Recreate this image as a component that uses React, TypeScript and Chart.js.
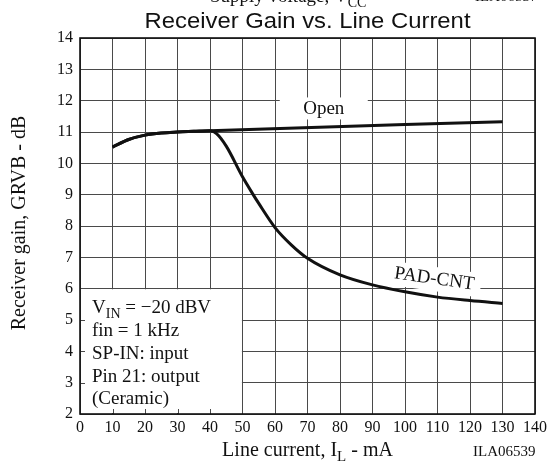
import React, { useEffect, useRef } from "react";
import { Chart, registerables } from "chart.js";

Chart.register(...registerables);

// Receiver gain (dB) versus line current (mA)
const currentOpen = [10, 15, 20, 25, 30, 35, 40, 130];
const gainOpen = [10.52, 10.76, 10.9, 10.97, 11.0, 11.02, 11.04, 11.33];

const currentPad = [10, 15, 20, 25, 30, 35, 40, 42, 45, 50, 53, 55, 60, 65, 70, 80, 90, 100, 110, 120, 130];
const gainPad = [10.52, 10.76, 10.9, 10.97, 11.0, 11.02, 11.04, 10.95, 10.55, 9.57, 9.05, 8.72, 7.95, 7.4, 6.97, 6.44, 6.12, 5.9, 5.73, 5.62, 5.53];

const seriesNames = ["Open", "PAD-CNT"];

const xTicks = [0, 140, 10]; // min, max, step
const yTicks = [2, 14, 1];

const titleText = "Receiver Gain vs. Line Current";
const yTitle = "Receiver gain, GRVB - dB";
const figureId = "ILA06539";
const headerId = "ILA06537";

type Run = { t: string; sub?: boolean };
const xTitleRuns: Run[] = [{ t: "Line current, I" }, { t: "L", sub: true }, { t: " - mA" }];
const headerRuns: Run[] = [{ t: "Supply voltage, V" }, { t: "CC", sub: true }];
const conditionLines: Run[][] = [
  [{ t: "V" }, { t: "IN", sub: true }, { t: " = \u221220 dBV" }],
  [{ t: "fin = 1 kHz" }],
  [{ t: "SP-IN: input" }],
  [{ t: "Pin 21: output" }],
  [{ t: "(Ceramic)" }],
];

const SERIF = '"Liberation Serif", "Times New Roman", serif';
const SANS = '"Liberation Sans", Arial, sans-serif';
const GRID = "#4a4a4a";
const INK = "#111111";

function drawRuns(
  ctx: CanvasRenderingContext2D,
  runs: Run[],
  x: number,
  y: number,
  size: number,
  align: "left" | "center"
) {
  const subSize = Math.round(size * 0.74);
  const drop = size * 0.27;
  const widths = runs.map((r) => {
    ctx.font = `${r.sub ? subSize : size}px ${SERIF}`;
    return ctx.measureText(r.t).width;
  });
  const total = widths.reduce((s, w) => s + w, 0);
  let cx = align === "center" ? x - total / 2 : x;
  ctx.textAlign = "left";
  ctx.textBaseline = "alphabetic";
  runs.forEach((r, i) => {
    ctx.font = `${r.sub ? subSize : size}px ${SERIF}`;
    ctx.fillText(r.t, cx, r.sub ? y + drop : y);
    cx += widths[i];
  });
}

const annotations = {
  id: "annotations",
  beforeDatasetsDraw(chart: any) {
    const { ctx, chartArea: a, scales } = chart;
    const x = scales.x;
    const y = scales.y;
    ctx.save();
    ctx.fillStyle = "#ffffff";

    // conditions panel in the lower-left corner
    const bx0 = a.left + 1;
    const bx1 = x.getPixelForValue(50) - 0.6;
    const by0 = y.getPixelForValue(6) + 0.6;
    const by1 = a.bottom - 1;
    ctx.fillRect(bx0, by0, bx1 - bx0, by1 - by0);

    // short inward ticks along the panel edges
    ctx.strokeStyle = GRID;
    ctx.lineWidth = 1;
    ctx.beginPath();
    for (const v of [3, 4, 5]) {
      const py = Math.round(y.getPixelForValue(v)) + 0.5;
      ctx.moveTo(a.left, py);
      ctx.lineTo(a.left + 5, py);
    }
    for (const v of [10, 20, 30, 40]) {
      const px = Math.round(x.getPixelForValue(v)) + 0.5;
      ctx.moveTo(px, a.bottom);
      ctx.lineTo(px, a.bottom - 5);
    }
    ctx.stroke();

    // white backing behind the curve labels
    const ox = x.getPixelForValue(75);
    const oy = y.getPixelForValue(11.72);
    ctx.fillRect(ox - 44, oy - 12, 88, 22);

    const px = x.getPixelForValue(109);
    const py = y.getPixelForValue(6.31);
    ctx.translate(px, py);
    ctx.rotate((8 * Math.PI) / 180);
    ctx.fillRect(-47, -12, 94, 24);
    ctx.restore();
  },
  afterDatasetsDraw(chart: any) {
    const { ctx, chartArea: a, scales } = chart;
    const x = scales.x;
    const y = scales.y;
    ctx.save();

    // plot frame
    ctx.strokeStyle = INK;
    ctx.lineWidth = 1.6;
    ctx.strokeRect(a.left, a.top, a.right - a.left, a.bottom - a.top);

    ctx.fillStyle = INK;

    // curve labels
    ctx.font = `19px ${SERIF}`;
    ctx.textAlign = "center";
    ctx.textBaseline = "middle";
    ctx.fillText(seriesNames[0], x.getPixelForValue(75), y.getPixelForValue(11.72));

    ctx.save();
    ctx.translate(x.getPixelForValue(109), y.getPixelForValue(6.31));
    ctx.rotate((8 * Math.PI) / 180);
    ctx.fillText(seriesNames[1], 0, 0);
    ctx.restore();

    // measurement conditions
    const baselines = [313, 336, 359, 381.5, 403.5];
    conditionLines.forEach((runs, i) => drawRuns(ctx, runs, a.left + 12, baselines[i], 19, "left"));
    ctx.restore();
  },
  afterDraw(chart: any) {
    const { ctx, chartArea: a } = chart;
    ctx.save();
    ctx.fillStyle = INK;

    // header line, mostly cut off by the top edge
    drawRuns(ctx, headerRuns, 210, 1.5, 19, "left");
    ctx.font = `15px ${SERIF}`;
    ctx.textAlign = "left";
    ctx.fillText(headerId, 475, 1);

    // chart title
    ctx.font = `22px ${SANS}`;
    const tw = ctx.measureText(titleText).width;
    const cx = (a.left + a.right) / 2;
    ctx.save();
    ctx.translate(cx, 27.5);
    ctx.scale(326 / tw, 1);
    ctx.textAlign = "center";
    ctx.textBaseline = "alphabetic";
    ctx.fillText(titleText, 0, 0);
    ctx.restore();

    // y-axis title
    ctx.save();
    ctx.translate(20, (a.top + a.bottom) / 2 - 3);
    ctx.rotate(-Math.PI / 2);
    ctx.font = `20px ${SERIF}`;
    ctx.textAlign = "center";
    ctx.textBaseline = "middle";
    ctx.fillText(yTitle, 0, 0);
    ctx.restore();

    // x-axis title and figure id
    drawRuns(ctx, xTitleRuns, cx, 456, 20, "center");
    ctx.font = `15px ${SERIF}`;
    ctx.textAlign = "left";
    ctx.fillText(figureId, 473, 456);
    ctx.restore();
  },
};

export default function App() {
  const canvasRef = useRef<HTMLCanvasElement | null>(null);

  useEffect(() => {
    const canvas = canvasRef.current;
    if (!canvas) return;

    const lineStyle = {
      borderColor: INK,
      backgroundColor: INK,
      borderWidth: 3,
      pointRadius: 0,
      fill: false,
      cubicInterpolationMode: "monotone" as const,
    };

    const chart = new Chart(canvas, {
      type: "line",
      data: {
        datasets: [
          {
            label: seriesNames[0],
            data: currentOpen.map((c, i) => ({ x: c, y: gainOpen[i] })),
            ...lineStyle,
          },
          {
            label: seriesNames[1],
            data: currentPad.map((c, i) => ({ x: c, y: gainPad[i] })),
            ...lineStyle,
          },
        ],
      },
      options: {
        responsive: false,
        animation: false,
        devicePixelRatio: 1,
        layout: { padding: { top: 38, right: 18, left: 0, bottom: 0 } },
        plugins: {
          legend: { display: false },
          tooltip: { enabled: false },
          title: { display: false },
        },
        scales: {
          x: {
            type: "linear",
            min: xTicks[0],
            max: xTicks[1],
            afterFit: (s: any) => {
              s.height = 50;
            },
            ticks: {
              stepSize: xTicks[2],
              autoSkip: false,
              maxRotation: 0,
              padding: 4,
              color: INK,
              font: { family: SERIF, size: 16 },
            },
            grid: { color: GRID, lineWidth: 1, drawTicks: false },
            border: { display: false },
          },
          y: {
            type: "linear",
            min: yTicks[0],
            max: yTicks[1],
            afterFit: (s: any) => {
              s.width = 80;
            },
            ticks: {
              stepSize: yTicks[2],
              autoSkip: false,
              padding: 7,
              color: INK,
              font: { family: SERIF, size: 16 },
            },
            grid: { color: GRID, lineWidth: 1, drawTicks: false },
            border: { display: false },
          },
        },
      },
      plugins: [annotations],
    });

    return () => chart.destroy();
  }, []);

  return (
    <div style={{ position: "absolute", left: 0, top: 0, width: 553, height: 464, background: "#fff" }}>
      <canvas ref={canvasRef} width={553} height={464} style={{ display: "block" }} />
    </div>
  );
}
